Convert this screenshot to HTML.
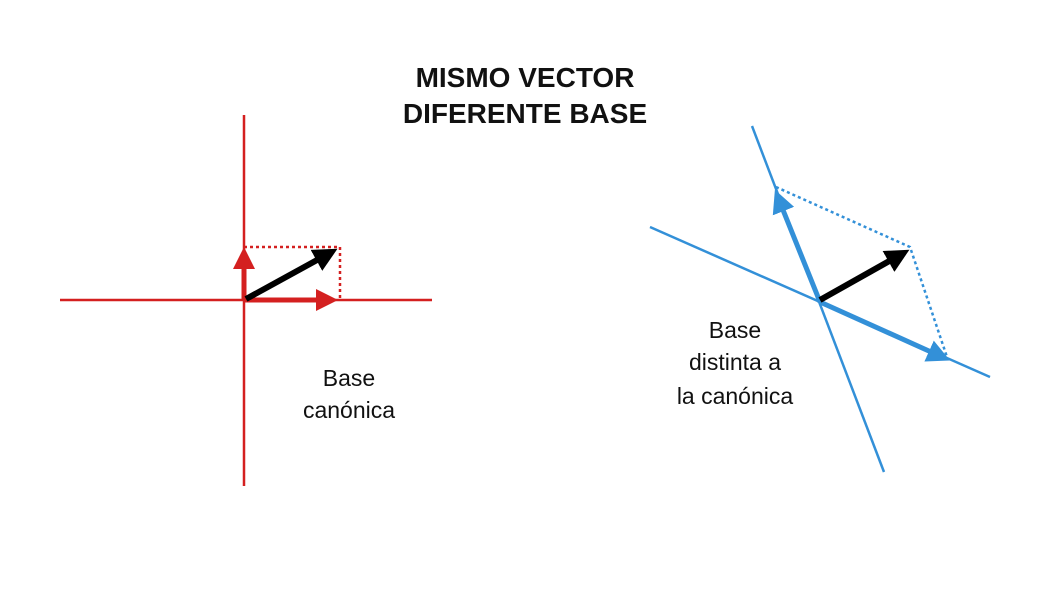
<!DOCTYPE html>
<html><head><meta charset="utf-8"><style>
body{margin:0;background:#fff;width:1050px;height:600px;overflow:hidden}
svg{display:block}
text{font-family:"Liberation Sans",sans-serif;fill:#111}
</style></head><body>
<svg width="1050" height="600" viewBox="0 0 1050 600">
<defs>
<marker id="rh" markerWidth="4.4" markerHeight="4.4" refX="2.4" refY="2.2" orient="auto" markerUnits="strokeWidth"><path d="M0,0 L4.4,2.2 L0,4.4 Z" fill="#d42020"/></marker>
<marker id="kh" markerWidth="4" markerHeight="4" refX="2.2" refY="2" orient="auto" markerUnits="strokeWidth"><path d="M0,0 L4,2 L0,4 Z" fill="#000"/></marker>
<marker id="bh" markerWidth="4.6" markerHeight="4.6" refX="2.4" refY="2.3" orient="auto" markerUnits="strokeWidth"><path d="M0,0 L4.6,2.3 L0,4.6 Z" fill="#3390d8"/></marker>
</defs>
<text x="525" y="87" font-size="28" font-weight="bold" text-anchor="middle">MISMO VECTOR</text>
<text x="525" y="123" font-size="28" font-weight="bold" text-anchor="middle">DIFERENTE BASE</text>
<!-- red -->
<line x1="60" y1="300" x2="432" y2="300" stroke="#d42020" stroke-width="2.5"/>
<line x1="244" y1="115" x2="244" y2="486" stroke="#d42020" stroke-width="2.5"/>
<polyline points="244,247 340,247 340,300" fill="none" stroke="#d42020" stroke-width="2.5" stroke-dasharray="3,3"/>
<line x1="244" y1="300" x2="244" y2="257" stroke="#d42020" stroke-width="5" marker-end="url(#rh)"/>
<line x1="244" y1="300" x2="328" y2="300" stroke="#d42020" stroke-width="5" marker-end="url(#rh)"/>
<line x1="246" y1="299" x2="328" y2="254" stroke="#000" stroke-width="6" marker-end="url(#kh)"/>
<text x="349" y="386" font-size="23" text-anchor="middle">Base</text>
<text x="349" y="418" font-size="23" text-anchor="middle">canónica</text>
<!-- blue -->
<line x1="752" y1="126" x2="884" y2="472" stroke="#3390d8" stroke-width="2.5"/>
<line x1="650" y1="227" x2="990" y2="377" stroke="#3390d8" stroke-width="2.5"/>
<polyline points="776,187 910,247 948,360" fill="none" stroke="#3390d8" stroke-width="2.5" stroke-dasharray="3,3"/>
<line x1="820" y1="302" x2="779" y2="200" stroke="#3390d8" stroke-width="5" marker-end="url(#bh)"/>
<line x1="820" y1="302" x2="940" y2="356" stroke="#3390d8" stroke-width="5" marker-end="url(#bh)"/>
<line x1="820" y1="300" x2="900" y2="255" stroke="#000" stroke-width="6" marker-end="url(#kh)"/>
<text x="735" y="338" font-size="23" text-anchor="middle">Base</text>
<text x="735" y="370" font-size="23" text-anchor="middle">distinta a</text>
<text x="735" y="404" font-size="23" text-anchor="middle">la canónica</text>
</svg>
</body></html>
